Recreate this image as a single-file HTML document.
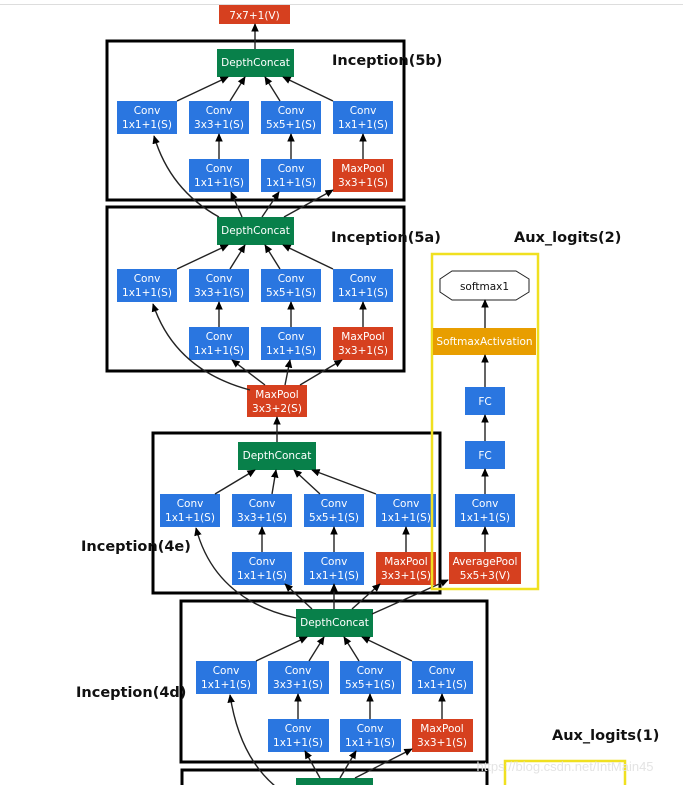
<!DOCTYPE html>
<html><head><meta charset="utf-8"><style>
html,body{margin:0;padding:0;background:#fff;width:683px;height:785px;overflow:hidden}
svg{display:block}
.t{font-family:"DejaVu Sans","Liberation Sans",sans-serif;font-size:10.5px;fill:#fff;text-anchor:middle}
.L{font-family:"DejaVu Sans","Liberation Sans",sans-serif;font-size:14.5px;font-weight:bold;fill:#111}
.b{fill:#2a76e0}.r{fill:#d6401f}.g{fill:#08804a}
.a{stroke:#222;stroke-width:1.4;fill:none;marker-end:url(#m)}
.box{fill:none;stroke:#000;stroke-width:3}
</style></head><body>
<svg width="683" height="785" viewBox="0 0 683 785" xmlns="http://www.w3.org/2000/svg">
<defs><marker id="m" viewBox="0 0 10 10" refX="9" refY="5" markerWidth="6" markerHeight="6" orient="auto-start-reverse"><path d="M0,0.5 L10,5 L0,9.5 z" fill="#000"/></marker></defs>
<line x1="0" y1="4.5" x2="683" y2="4.5" stroke="#ddd" stroke-width="1"/>
<rect x="219" y="5" width="71" height="19" class="r"/><text class="t" x="254.5" y="19">7x7+1(V)</text>

<rect x="107" y="41" width="297" height="159" class="box"/>
<rect x="107" y="207" width="297" height="164" class="box"/>
<rect x="153" y="433" width="287" height="160" class="box"/>
<rect x="181" y="601" width="306" height="161" class="box"/>
<rect x="182" y="770" width="305" height="20" class="box"/>
<rect x="296" y="778" width="77" height="10" class="g"/>

<g transform="translate(117,49)">
<rect x="100" y="0" width="77" height="28" class="g"/><text class="t" x="138.5" y="17">DepthConcat</text>
<rect x="0" y="52" width="60" height="33" class="b"/><text class="t" x="30" y="65">Conv</text><text class="t" x="30" y="79">1x1+1(S)</text>
<rect x="72" y="52" width="60" height="33" class="b"/><text class="t" x="102" y="65">Conv</text><text class="t" x="102" y="79">3x3+1(S)</text>
<rect x="144" y="52" width="60" height="33" class="b"/><text class="t" x="174" y="65">Conv</text><text class="t" x="174" y="79">5x5+1(S)</text>
<rect x="216" y="52" width="60" height="33" class="b"/><text class="t" x="246" y="65">Conv</text><text class="t" x="246" y="79">1x1+1(S)</text>
<rect x="72" y="110" width="60" height="33" class="b"/><text class="t" x="102" y="123">Conv</text><text class="t" x="102" y="137">1x1+1(S)</text>
<rect x="144" y="110" width="60" height="33" class="b"/><text class="t" x="174" y="123">Conv</text><text class="t" x="174" y="137">1x1+1(S)</text>
<rect x="216" y="110" width="60" height="33" class="r"/><text class="t" x="246" y="123">MaxPool</text><text class="t" x="246" y="137">3x3+1(S)</text>
<path class="a" d="M60,52 L111,28"/><path class="a" d="M113,52 L128,28"/><path class="a" d="M163,52 L148,28"/><path class="a" d="M216,52 L166,28"/>
<path class="a" d="M102,110 L102,85"/><path class="a" d="M174,110 L174,85"/><path class="a" d="M246,110 L246,85"/>
</g>
<g transform="translate(117,217)">
<rect x="100" y="0" width="77" height="28" class="g"/><text class="t" x="138.5" y="17">DepthConcat</text>
<rect x="0" y="52" width="60" height="33" class="b"/><text class="t" x="30" y="65">Conv</text><text class="t" x="30" y="79">1x1+1(S)</text>
<rect x="72" y="52" width="60" height="33" class="b"/><text class="t" x="102" y="65">Conv</text><text class="t" x="102" y="79">3x3+1(S)</text>
<rect x="144" y="52" width="60" height="33" class="b"/><text class="t" x="174" y="65">Conv</text><text class="t" x="174" y="79">5x5+1(S)</text>
<rect x="216" y="52" width="60" height="33" class="b"/><text class="t" x="246" y="65">Conv</text><text class="t" x="246" y="79">1x1+1(S)</text>
<rect x="72" y="110" width="60" height="33" class="b"/><text class="t" x="102" y="123">Conv</text><text class="t" x="102" y="137">1x1+1(S)</text>
<rect x="144" y="110" width="60" height="33" class="b"/><text class="t" x="174" y="123">Conv</text><text class="t" x="174" y="137">1x1+1(S)</text>
<rect x="216" y="110" width="60" height="33" class="r"/><text class="t" x="246" y="123">MaxPool</text><text class="t" x="246" y="137">3x3+1(S)</text>
<path class="a" d="M60,52 L111,28"/><path class="a" d="M113,52 L128,28"/><path class="a" d="M163,52 L148,28"/><path class="a" d="M216,52 L166,28"/>
<path class="a" d="M102,110 L102,85"/><path class="a" d="M174,110 L174,85"/><path class="a" d="M246,110 L246,85"/>
</g>
<g transform="translate(160,442)">
<rect x="78" y="0" width="78" height="28" class="g"/><text class="t" x="117" y="17">DepthConcat</text>
<rect x="0" y="52" width="60" height="33" class="b"/><text class="t" x="30" y="65">Conv</text><text class="t" x="30" y="79">1x1+1(S)</text>
<rect x="72" y="52" width="60" height="33" class="b"/><text class="t" x="102" y="65">Conv</text><text class="t" x="102" y="79">3x3+1(S)</text>
<rect x="144" y="52" width="60" height="33" class="b"/><text class="t" x="174" y="65">Conv</text><text class="t" x="174" y="79">5x5+1(S)</text>
<rect x="216" y="52" width="60" height="33" class="b"/><text class="t" x="246" y="65">Conv</text><text class="t" x="246" y="79">1x1+1(S)</text>
<rect x="72" y="110" width="60" height="33" class="b"/><text class="t" x="102" y="123">Conv</text><text class="t" x="102" y="137">1x1+1(S)</text>
<rect x="144" y="110" width="60" height="33" class="b"/><text class="t" x="174" y="123">Conv</text><text class="t" x="174" y="137">1x1+1(S)</text>
<rect x="216" y="110" width="60" height="33" class="r"/><text class="t" x="246" y="123">MaxPool</text><text class="t" x="246" y="137">3x3+1(S)</text>
<path class="a" d="M55,52 L95,28"/><path class="a" d="M112,52 L116,28"/><path class="a" d="M160,52 L134,28"/><path class="a" d="M216,52 L152,28"/>
<path class="a" d="M102,110 L102,85"/><path class="a" d="M174,110 L174,85"/><path class="a" d="M246,110 L246,85"/>
</g>
<g transform="translate(196,609)">
<rect x="100" y="0" width="77" height="28" class="g"/><text class="t" x="138.5" y="17">DepthConcat</text>
<rect x="0" y="52" width="61" height="33" class="b"/><text class="t" x="30" y="65">Conv</text><text class="t" x="30" y="79">1x1+1(S)</text>
<rect x="72" y="52" width="61" height="33" class="b"/><text class="t" x="102" y="65">Conv</text><text class="t" x="102" y="79">3x3+1(S)</text>
<rect x="144" y="52" width="61" height="33" class="b"/><text class="t" x="174" y="65">Conv</text><text class="t" x="174" y="79">5x5+1(S)</text>
<rect x="216" y="52" width="61" height="33" class="b"/><text class="t" x="246" y="65">Conv</text><text class="t" x="246" y="79">1x1+1(S)</text>
<rect x="72" y="110" width="61" height="33" class="b"/><text class="t" x="102" y="123">Conv</text><text class="t" x="102" y="137">1x1+1(S)</text>
<rect x="144" y="110" width="61" height="33" class="b"/><text class="t" x="174" y="123">Conv</text><text class="t" x="174" y="137">1x1+1(S)</text>
<rect x="216" y="110" width="61" height="33" class="r"/><text class="t" x="246" y="123">MaxPool</text><text class="t" x="246" y="137">3x3+1(S)</text>
<path class="a" d="M60,52 L111,28"/><path class="a" d="M113,52 L128,28"/><path class="a" d="M163,52 L148,28"/><path class="a" d="M216,52 L166,28"/>
<path class="a" d="M102,110 L102,85"/><path class="a" d="M174,110 L174,85"/><path class="a" d="M246,110 L246,85"/>
</g>

<rect x="247" y="385" width="60" height="32" class="r"/><text class="t" x="277" y="398">MaxPool</text><text class="t" x="277" y="412">3x3+2(S)</text>

<path class="a" d="M255,49 L255,24"/>
<path class="a" d="M219,217 Q170,190 154,136"/><path class="a" d="M242,217 L231,192"/><path class="a" d="M262,217 L279,192"/><path class="a" d="M284,217 L333,190"/>
<path class="a" d="M250,390 Q175,370 153,304"/><path class="a" d="M265,385 L232,360"/><path class="a" d="M285,385 L290,360"/><path class="a" d="M300,385 L342,360"/>
<path class="a" d="M277,442 L277,417"/>
<path class="a" d="M296,618 Q215,600 196,528"/><path class="a" d="M312,609 L285,584"/><path class="a" d="M334,609 L334,584"/><path class="a" d="M352,609 L380,584"/><path class="a" d="M372,614 L448,580"/>
<path class="a" d="M280,790 Q240,760 230,695"/><path class="a" d="M320,778 L305,751"/><path class="a" d="M340,778 L356,751"/><path class="a" d="M355,778 L412,749"/>

<rect x="432" y="254" width="106" height="335" fill="none" stroke="#f0e020" stroke-width="2.5"/>
<polygon points="452,271 516,271 529,279 529,292 516,300 452,300 440,292 440,279" fill="#fff" stroke="#222" stroke-width="1"/>
<text x="484.5" y="290" font-family="DejaVu Sans,sans-serif" font-size="10.5" fill="#111" text-anchor="middle">softmax1</text>
<rect x="433" y="328" width="103" height="27" fill="#e89e00"/><text class="t" x="484.5" y="345">SoftmaxActivation</text>
<rect x="465" y="387" width="40" height="28" class="b"/><text class="t" x="485" y="405">FC</text>
<rect x="465" y="441" width="40" height="28" class="b"/><text class="t" x="485" y="459">FC</text>
<rect x="455" y="494" width="60" height="33" class="b"/><text class="t" x="485" y="507">Conv</text><text class="t" x="485" y="521">1x1+1(S)</text>
<rect x="449" y="552" width="72" height="32" class="r"/><text class="t" x="485" y="565">AveragePool</text><text class="t" x="485" y="579">5x5+3(V)</text>
<path class="a" d="M485,552 L485,527"/><path class="a" d="M485,494 L485,469"/><path class="a" d="M485,441 L485,415"/><path class="a" d="M485,387 L485,355"/><path class="a" d="M485,328 L485,300"/>

<path d="M505,785 L505,761 L625,761 L625,785" fill="none" stroke="#f0e020" stroke-width="2.5"/>
<text x="565" y="771" font-family="Liberation Sans,sans-serif" font-size="13" fill="#e4e4e4" text-anchor="middle">https://blog.csdn.net/IntMain45</text>

<text class="L" x="332" y="65">Inception(5b)</text>
<text class="L" x="331" y="242">Inception(5a)</text>
<text class="L" x="514" y="242">Aux_logits(2)</text>
<text class="L" x="81" y="551">Inception(4e)</text>
<text class="L" x="76" y="697">Inception(4d)</text>
<text class="L" x="552" y="740">Aux_logits(1)</text>
</svg>
</body></html>
